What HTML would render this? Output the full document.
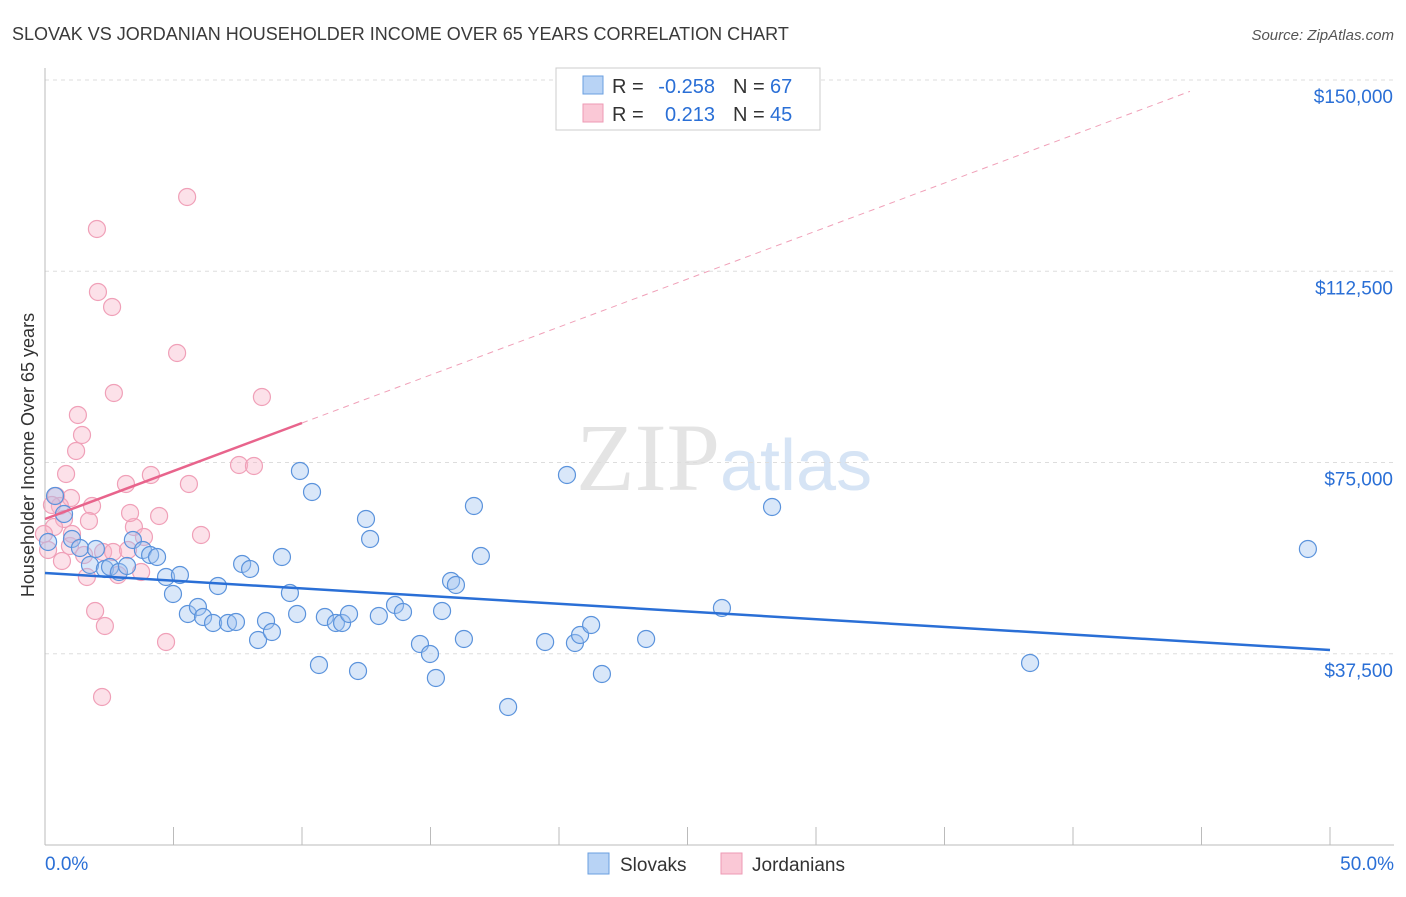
<!DOCTYPE html>
<html><head><meta charset="utf-8"><style>
body{margin:0;background:#fff;font-family:"Liberation Sans",sans-serif;}
</style></head><body>
<svg id="c" width="1406" height="892" xmlns="http://www.w3.org/2000/svg" style="font-family:'Liberation Sans',sans-serif">
<text x="12" y="40" font-size="18" fill="#3a3a3a">SLOVAK VS JORDANIAN HOUSEHOLDER INCOME OVER 65 YEARS CORRELATION CHART</text>
<text x="1394" y="40" font-size="15" fill="#555" text-anchor="end" font-style="italic">Source: ZipAtlas.com</text>
<text x="720" y="490" font-size="96" fill="#e4e4e4" text-anchor="end" font-family="Liberation Serif">ZIP</text>
<text x="720" y="490" font-size="72" fill="#d6e4f5">atlas</text>
<g id="grid"></g><g id="marks"></g>
<text transform="translate(34,455) rotate(-90)" font-size="18" fill="#333" text-anchor="middle">Householder Income Over 65 years</text>
<g font-size="20">
<rect x="556" y="68" width="264" height="62" fill="#fff" stroke="#ccc"/>
<rect x="583" y="76" width="20" height="18" fill="#b8d3f5" stroke="#6a9fe0"/>
<rect x="583" y="104" width="20" height="18" fill="#fac8d6" stroke="#ee9ab4"/>
<text x="612" y="93" fill="#333">R =</text>
<text x="715" y="93" fill="#2a6fd6" text-anchor="end">-0.258</text>
<text x="733" y="93" fill="#333">N =</text>
<text x="770" y="93" fill="#2a6fd6">67</text>
<text x="612" y="121" fill="#333">R =</text>
<text x="715" y="121" fill="#2a6fd6" text-anchor="end">0.213</text>
<text x="733" y="121" fill="#333">N =</text>
<text x="770" y="121" fill="#2a6fd6">45</text>
</g>
<g>
<rect x="588" y="853" width="21" height="21" fill="#b8d3f5" stroke="#6a9fe0"/>
<text x="620" y="871" font-size="19" fill="#333">Slovaks</text>
<rect x="721" y="853" width="21" height="21" fill="#fac8d6" stroke="#ee9ab4"/>
<text x="752" y="871" font-size="19" fill="#333">Jordanians</text>
</g>
</svg>
<script>
const yTicks=[37500,75000,112500,150000];
const yTickLabels=["$37,500","$75,000","$112,500","$150,000"];
const xTickLabels=["0.0%","50.0%"];
const slovakX=[0.39,0.74,1.05,1.36,1.75,1.98,2.33,2.53,2.88,3.19,3.42,3.81,4.09,4.36,4.71,4.98,5.25,5.56,5.95,6.15,6.54,6.73,7.12,7.43,7.67,7.98,8.29,8.6,8.83,9.22,9.53,9.81,9.92,10.39,10.66,10.89,11.32,11.56,11.83,12.18,12.49,12.65,12.99,13.62,13.93,14.59,14.98,15.21,15.45,15.8,15.99,16.3,16.69,16.96,18.02,19.46,20.31,20.62,20.82,21.25,21.67,23.39,26.34,28.29,38.33,49.14,0.12];
const slovakY=[68435,64905,60003,58239,54905,58043,54121,54513,53533,54709,59807,57846,56866,56474,52553,49219,52945,45298,46671,44710,43533,50788,43533,43729,55101,54121,40200,43925,41768,56474,49415,45298,73336,69219,35298,44710,43533,43533,45298,34121,63925,60003,44906,47063,45690,39415,37454,32749,45886,51768,50984,40396,66474,56670,27063,39807,72552,39611,41180,43141,33533,40396,46474,66278,35690,58043,59415];
const jordanX=[5.53,2.02,2.06,2.61,5.14,2.68,8.44,1.28,1.44,1.21,7.55,8.13,0.82,4.12,3.15,5.6,0.43,1.01,0.58,1.83,4.44,1.71,0.74,3.46,6.07,3.85,0.97,2.26,2.65,3.23,0.66,3.74,1.63,2.84,1.95,2.33,4.71,2.22,0.27,3.31,0.35,1.05,1.52,0.12,-0.04];
const jordanY=[127063,120788,108435,105494,96474,88631,87846,84317,80396,77258,74513,74317,72749,72552,70788,70788,68435,68043,66474,66474,64513,63533,63925,62356,60788,60396,58631,57454,57454,57846,55690,53533,52553,52945,45886,42945,39807,29023,66670,65101,62356,60984,56866,57846,60984];
const slovakTrend=[53334,38236];
const jordanTrend=[63922,82746,147768];
const X0=45,XS=25.7,Y0=845,YS=765/150000;
const sx=v=>X0+v*XS, sy=v=>Y0-v*YS;
const NS="http://www.w3.org/2000/svg";
function mk(p,t,a){const e=document.createElementNS(NS,t);for(const k in a)e.setAttribute(k,a[k]);p.appendChild(e);return e;}
const grid=document.getElementById('grid'),marks=document.getElementById('marks');
yTicks.forEach((v,i)=>{
 const l=mk(grid,'line',{x1:45,x2:1394,y1:sy(v),y2:sy(v),stroke:'#ddd','stroke-dasharray':'4,4'});
 
 
 const t=mk(grid,'text',{x:1393,y:sy(v)+23,'font-size':19,fill:'#2a6fd6','text-anchor':'end'});
 t.textContent=yTickLabels[i];
 
 
});
const ax=mk(grid,'line',{x1:45,x2:1394,y1:845,y2:845,stroke:'#bbb'});


const ay=mk(grid,'line',{x1:45,x2:45,y1:68,y2:845,stroke:'#bbb'});


for(let i=1;i<=10;i++){const t=mk(grid,'line',{x1:sx(i*5),x2:sx(i*5),y1:827,y2:845,stroke:'#bbb'});
 
 }
[[0,'start',45],[50,'end',1394]].forEach((d,i)=>{const t=mk(grid,'text',{x:d[2],y:870,'font-size':19,fill:'#2a6fd6','text-anchor':d[1]});t.textContent=xTickLabels[i];
 
 });
jordanX.forEach((x,i)=>{const c=mk(marks,'circle',{cx:sx(x),cy:sy(jordanY[i]),r:8.5,fill:'rgba(248,180,200,0.4)',stroke:'#f0a0b8','stroke-width':1.2});
 
 });
slovakX.forEach((x,i)=>{const c=mk(marks,'circle',{cx:sx(x),cy:sy(slovakY[i]),r:8.5,fill:'rgba(160,196,240,0.4)',stroke:'#5b93dc','stroke-width':1.2});
 
 });
const bl=mk(marks,'line',{x1:sx(0),y1:sy(slovakTrend[0]),x2:sx(50),y2:sy(slovakTrend[1]),stroke:'#2a6fd6','stroke-width':2.5});


const pl=mk(marks,'line',{x1:sx(0),y1:sy(jordanTrend[0]),x2:sx(10),y2:sy(jordanTrend[1]),stroke:'#e8648c','stroke-width':2.5});


const pd=mk(marks,'line',{x1:sx(10),y1:sy(jordanTrend[1]),x2:sx(44.55),y2:sy(jordanTrend[2]),stroke:'#f0a0b8','stroke-width':1,'stroke-dasharray':'6,5'});


</script>
</body></html>
